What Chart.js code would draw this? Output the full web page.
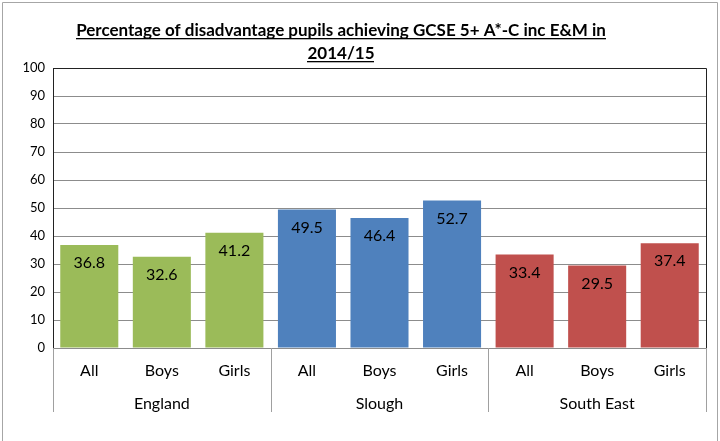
<!DOCTYPE html>
<html>
<head>
<meta charset="utf-8">
<script src="https://cdn.jsdelivr.net/npm/chart.js@4/dist/chart.umd.min.js"></script>
<style>
html,body{margin:0;padding:0;background:#fff;}
#wrap{width:720px;height:441px;position:relative;}
</style>
</head>
<body>
<div id="wrap"><canvas id="c" width="720" height="441"></canvas></div>
<script>
const titleLines = ["Percentage of disadvantage pupils achieving GCSE 5+ A*-C inc E&M in", "2014/15"];
const subCategories = ["All", "Boys", "Girls", "All", "Boys", "Girls", "All", "Boys", "Girls"];
const groups = ["England", "Slough", "South East"];
const values = [36.8, 32.6, 41.2, 49.5, 46.4, 52.7, 33.4, 29.5, 37.4];
const groupColors = ["#9BBB59", "#4F81BD", "#C0504D"];
const yTicks = [0, 10, 20, 30, 40, 50, 60, 70, 80, 90, 100];

const FONT = "Lato, 'Open Sans', sans-serif";
const barColors = values.map((v, i) => groupColors[Math.floor(i / 3)]);

const decorPlugin = {
  id: 'decor',
  beforeDraw(chart) {
    const ctx = chart.ctx;
    ctx.save();
    ctx.fillStyle = '#fff';
    ctx.fillRect(0, 0, chart.width, chart.height);
    // outer frame
    ctx.strokeStyle = '#a6a6a6';
    ctx.lineWidth = 1;
    ctx.beginPath();
    ctx.moveTo(2.5, chart.height);
    ctx.lineTo(2.5, 2.5);
    ctx.lineTo(chart.width - 2.5, 2.5);
    ctx.lineTo(chart.width - 2.5, chart.height);
    ctx.stroke();
    // title with underline
    ctx.fillStyle = '#000';
    ctx.font = "bold 17px " + FONT;
    ctx.textAlign = 'center';
    ctx.textBaseline = 'alphabetic';
    const cx = 341;
    const ys = [36, 59];
    titleLines.forEach((t, i) => {
      ctx.fillText(t, cx, ys[i]);
      const w = ctx.measureText(t).width;
      ctx.fillRect(Math.round(cx - w / 2), ys[i] + 2, Math.round(w), 1.3);
    });
    ctx.restore();
  },
  afterDraw(chart) {
    const ctx = chart.ctx;
    const a = chart.chartArea;
    const x = chart.scales.x;
    const x2 = chart.scales.x2;
    ctx.save();
    // plot frame top/right/left dark
    ctx.strokeStyle = '#222';
    ctx.lineWidth = 1;
    ctx.beginPath();
    ctx.moveTo(Math.round(a.left) + 0.5, Math.round(a.bottom));
    ctx.lineTo(Math.round(a.left) + 0.5, Math.round(a.top) + 0.5);
    ctx.lineTo(Math.round(a.right) + 0.5, Math.round(a.top) + 0.5);
    ctx.lineTo(Math.round(a.right) + 0.5, Math.round(a.bottom));
    ctx.stroke();
    // group separators
    ctx.strokeStyle = '#a0a0a0';
    const bounds = [x.left];
    for (let g = 1; g < groups.length; g++) {
      const i = g * 3;
      bounds.push((x.getPixelForValue(i - 1) + x.getPixelForValue(i)) / 2);
    }
    bounds.push(x.right);
    ctx.beginPath();
    bounds.forEach(b => {
      const px = Math.round(b) + 0.5;
      ctx.moveTo(px, x.top);
      ctx.lineTo(px, x2.bottom);
    });
    ctx.stroke();
    // data labels
    ctx.fillStyle = '#000';
    ctx.font = "16px " + FONT;
    ctx.textAlign = 'center';
    ctx.textBaseline = 'middle';
    const meta = chart.getDatasetMeta(0);
    meta.data.forEach((bar, i) => {
      ctx.fillText(values[i].toFixed(1), bar.x, bar.y + 18);
    });
    ctx.restore();
  }
};

new Chart(document.getElementById('c'), {
  type: 'bar',
  data: {
    labels: subCategories,
    datasets: [{
      data: values,
      backgroundColor: barColors,
      borderWidth: 0,
      categoryPercentage: 1.0,
      barPercentage: 0.8,
      xAxisID: 'x'
    }]
  },
  options: {
    responsive: false,
    animation: false,
    layout: { padding: { left: 0, right: 14, top: 68, bottom: 29 } },
    plugins: { legend: { display: false }, tooltip: { enabled: false }, title: { display: false } },
    scales: {
      y: {
        min: 0, max: 100,
        afterBuildTicks: (s) => { s.ticks = yTicks.map(v => ({ value: v })); },
        afterFit: (s) => { s.width = 53; },
        grid: { color: '#8c8c8c', drawTicks: false },
        border: { color: '#222' },
        ticks: { color: '#000', font: { family: FONT, size: 13 }, padding: 8 }
      },
      x: {
        type: 'category',
        grid: { display: false },
        border: { color: '#8c8c8c' },
        afterFit: (s) => { s.height = 38; },
        ticks: { color: '#000', font: { family: FONT, size: 16 }, padding: 5, maxRotation: 0, autoSkip: false }
      },
      x2: {
        type: 'category',
        labels: groups,
        offset: true,
        position: 'bottom',
        grid: { display: false },
        border: { display: false },
        afterFit: (s) => { s.height = 26; },
        ticks: { color: '#000', font: { family: FONT, size: 16 }, padding: 0, maxRotation: 0, autoSkip: false }
      }
    }
  },
  plugins: [decorPlugin]
});
</script>
</body>
</html>
